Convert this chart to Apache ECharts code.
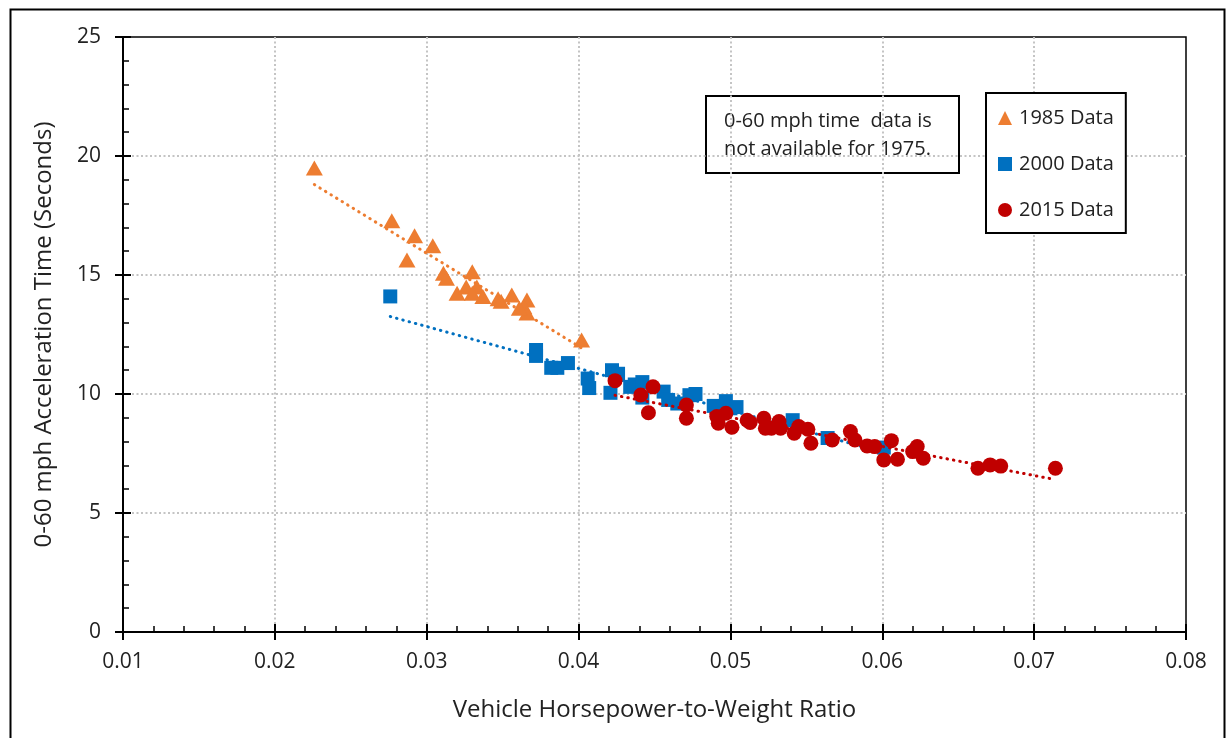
<!DOCTYPE html>
<html><head><meta charset="utf-8">
<script src="https://cdn.jsdelivr.net/npm/echarts@6/dist/echarts.min.js"></script>
<style>html,body{margin:0;padding:0;background:#fff}#c{width:1231px;height:738px}</style>
</head><body><div id="c"></div>
<script>
const data1985 = [[0.0226,19.5],[0.0277,17.28],[0.0292,16.65],[0.0304,16.23],[0.0287,15.63],[0.0311,15.07],[0.0313,14.86],[0.0330,15.14],[0.0320,14.23],[0.0326,14.5],[0.0333,14.5],[0.0330,14.23],[0.0337,14.1],[0.0347,14.0],[0.0349,13.9],[0.0356,14.16],[0.0366,13.95],[0.0364,13.67],[0.0366,13.4],[0.0361,13.6],[0.0402,12.27]];
const data2000 = [[0.0276,14.1],[0.0372,11.85],[0.0372,11.6],[0.0382,11.1],[0.0386,11.1],[0.0393,11.3],[0.0406,10.65],[0.0407,10.25],[0.0421,10.05],[0.0422,11.0],[0.0426,10.85],[0.0434,10.3],[0.0437,10.4],[0.0442,10.5],[0.0442,9.85],[0.0456,10.1],[0.0459,9.75],[0.0465,9.6],[0.0473,9.95],[0.0477,10.0],[0.0489,9.5],[0.0497,9.7],[0.0500,9.4],[0.0504,9.45],[0.0541,8.9],[0.0564,8.15],[0.0601,7.75]];
const data2015 = [[0.0424,10.56],[0.0449,10.3],[0.0441,9.96],[0.0446,9.21],[0.0471,9.54],[0.0471,8.98],[0.0491,9.05],[0.0492,8.77],[0.0497,9.19],[0.0501,8.6],[0.0511,8.9],[0.0513,8.8],[0.0522,8.98],[0.0523,8.56],[0.0527,8.56],[0.0532,8.84],[0.0533,8.56],[0.0542,8.35],[0.0545,8.63],[0.0551,8.52],[0.0553,7.93],[0.0567,8.07],[0.0579,8.42],[0.0582,8.07],[0.0590,7.82],[0.0595,7.79],[0.0601,7.23],[0.0606,8.04],[0.0610,7.26],[0.0620,7.58],[0.0623,7.79],[0.0627,7.3],[0.0663,6.88],[0.0671,7.02],[0.0678,6.97],[0.0714,6.88]];
const seriesNames = ['1985 Data','2000 Data','2015 Data'];
const xTitle = 'Vehicle Horsepower-to-Weight Ratio';
const yTitle = '0-60 mph Acceleration Time (Seconds)';
const noteLines = ['0-60 mph time  data is', 'not available for 1975.'];

function linFit(pts){
  const n = pts.length;
  let sx=0, sy=0, sxx=0, sxy=0, mn=Infinity, mx=-Infinity;
  pts.forEach(p=>{sx+=p[0];sy+=p[1];sxx+=p[0]*p[0];sxy+=p[0]*p[1];mn=Math.min(mn,p[0]);mx=Math.max(mx,p[0]);});
  const b=(n*sxy-sx*sy)/(n*sxx-sx*sx), a=(sy-b*sx)/n;
  return [[mn,a+b*mn],[mx,a+b*mx]];
}

const colors = ['#ED7D31','#0070C0','#C00000'];
const font = '"Open Sans", Lato, sans-serif';
const chart = echarts.init(document.getElementById('c'), null, {renderer:'canvas'});
const trendStyle = c => ({color:c, width:3, type:[0.5,6], cap:'round'});
const splitStyle = {show:true, showMinLine:false, showMaxLine:false, lineStyle:{color:'#c4c4c4', width:2, type:[2,2.5]}};

chart.setOption({
  animation:false,
  grid:{left:123, top:37, right:45, bottom:106, show:true, borderColor:'#000', borderWidth:1.5, backgroundColor:'transparent'},
  xAxis:[
    {type:'value', min:0.01, max:0.08, interval:0.01, position:'bottom',
     name:xTitle, nameLocation:'middle', nameGap:66,
     nameTextStyle:{fontFamily:font, fontSize:24, color:'#222'},
     axisLine:{show:true, onZero:false, lineStyle:{color:'#000', width:2}},
     axisTick:{show:true, inside:false, length:8, lineStyle:{color:'#000', width:2}},
     axisLabel:{fontFamily:font, fontSize:21, color:'#222', margin:20, formatter:v=>v.toFixed(2)},
     splitLine:splitStyle},
    {type:'value', min:0.01, max:0.08, interval:0.01, position:'bottom',
     axisLine:{show:false}, axisLabel:{show:false}, splitLine:{show:false},
     axisTick:{show:true, inside:true, length:8, lineStyle:{color:'#000', width:2}},
     minorTick:{show:true, splitNumber:5, length:6, lineStyle:{color:'#000', width:1.5}}}
  ],
  yAxis:[
    {type:'value', min:0, max:25, interval:5, position:'left',
     name:yTitle, nameLocation:'middle', nameGap:67,
     nameTextStyle:{fontFamily:font, fontSize:24, color:'#222'},
     axisLine:{show:true, onZero:false, lineStyle:{color:'#000', width:2}},
     axisTick:{show:true, inside:false, length:8, lineStyle:{color:'#000', width:2}},
     axisLabel:{fontFamily:font, fontSize:21, color:'#222', margin:22},
     splitLine:splitStyle},
    {type:'value', min:0, max:25, interval:5, position:'left',
     axisLine:{show:false}, axisLabel:{show:false}, splitLine:{show:false},
     axisTick:{show:true, inside:true, length:8, lineStyle:{color:'#000', width:2}},
     minorTick:{show:true, splitNumber:5, length:6, lineStyle:{color:'#000', width:1.5}}}
  ],
  legend:{
    data:[{name:seriesNames[0], icon:'triangle'},{name:seriesNames[1], icon:'rect'},{name:seriesNames[2], icon:'circle'}],
    orient:'vertical', left:986, top:93,
    padding:[15,12,13,12], itemGap:26, itemWidth:14, itemHeight:14,
    borderColor:'#000', borderWidth:2, backgroundColor:'#fff',
    textStyle:{fontFamily:font, fontSize:20, color:'#222', padding:[0,0,0,2]}
  },
  graphic:[
    {type:'rect', left:8, top:7, shape:{width:1214, height:745}, style:{fill:'none', stroke:'#000', lineWidth:2}, silent:true, z:-10},
    {type:'group', left:705, top:95, children:[
      {type:'rect', shape:{x:0, y:0, width:253, height:77}, style:{fill:'#fff', stroke:'#000', lineWidth:2}},
      {type:'text', x:18, y:11, style:{text:noteLines.join('\n'), font:'20px '+font, fill:'#222', lineHeight:28}}
    ], z:10}
  ],
  series:[
    {name:'t1985', type:'line', data:linFit(data1985), symbol:'none', lineStyle:trendStyle(colors[0]), z:1, silent:true},
    {name:'t2000', type:'line', data:linFit(data2000), symbol:'none', lineStyle:trendStyle(colors[1]), z:1, silent:true},
    {name:'t2015', type:'line', data:linFit(data2015), symbol:'none', lineStyle:trendStyle(colors[2]), z:4, silent:true},
    {name:seriesNames[0], type:'scatter', symbol:'triangle', symbolSize:[17,15], data:data1985, itemStyle:{color:colors[0], opacity:1}, z:2},
    {name:seriesNames[1], type:'scatter', symbol:'rect', symbolSize:14, data:data2000, itemStyle:{color:colors[1], opacity:1}, z:2},
    {name:seriesNames[2], type:'scatter', symbol:'circle', symbolSize:15, data:data2015, itemStyle:{color:colors[2], opacity:1}, z:3}
  ]
});
</script></body></html>
